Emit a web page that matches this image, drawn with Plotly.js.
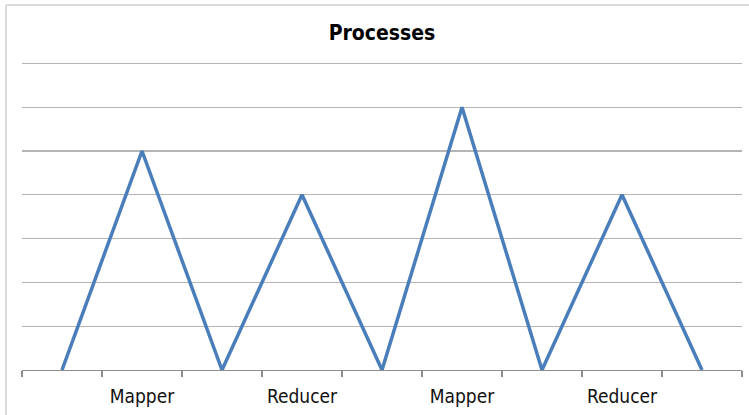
<!DOCTYPE html>
<html>
<head>
<meta charset="utf-8">
<script src="https://cdn.plot.ly/plotly-3.0.1.min.js"></script>
<style>
  html, body { margin: 0; padding: 0; background: #fff; }
  #chart { width: 749px; height: 415px; }
</style>
</head>
<body>
<div id="chart"></div>
<script>
// Data
const pointIndex = [0, 1, 2, 3, 4, 5, 6, 7, 8];
const values = [0, 5, 0, 4, 0, 6, 0, 4, 0];
const labelPositions = [1, 3, 5, 7];
const labelTexts = ["Mapper", "Reducer", "Mapper", "Reducer"];
const boundaryTicks = [-0.5, 0.5, 1.5, 2.5, 3.5, 4.5, 5.5, 6.5, 7.5, 8.5];

const L = 22, R = 7, T = 59, B = 45, W = 749, H = 415;
const plotW = W - L - R, plotH = H - T - B;
const px2paperX = x => (x - L) / plotW;
const px2paperY = y => (H - B - y) / plotH;

const trace = {
  x: pointIndex,
  y: values,
  type: 'scatter',
  mode: 'lines',
  line: { color: '#4a7ebb', width: 3.5 },
  hoverinfo: 'skip'
};

const layout = {
  width: W, height: H,
  margin: { l: L, r: R, t: T, b: B, pad: 0 },
  paper_bgcolor: '#ffffff',
  plot_bgcolor: '#ffffff',
  showlegend: false,
  title: {
    text: '<b>Processes</b>',
    font: { family: '"DejaVu Sans Condensed", "DejaVu Sans"', size: 21, color: '#000000' },
    x: 0.5, xref: 'paper', xanchor: 'center',
    y: 1 - 33 / H, yref: 'container', yanchor: 'middle'
  },
  xaxis: {
    range: [-0.5, 8.5],
    tickmode: 'array',
    tickvals: labelPositions,
    ticktext: labelTexts,
    ticks: '',
    showgrid: false,
    zeroline: false,
    showline: true,
    linecolor: '#8c8c8c',
    linewidth: 1.3,
    tickfont: { family: '"DejaVu Sans Condensed", "DejaVu Sans"', size: 19, color: '#111111' },
    ticklabelstandoff: 9,
    minor: {
      tickmode: 'array',
      tickvals: boundaryTicks,
      ticks: 'outside',
      ticklen: 6,
      tickwidth: 1.2,
      tickcolor: '#8c8c8c',
      showgrid: false
    },
    fixedrange: true
  },
  yaxis: {
    range: [0, 7.1],
    tickmode: 'linear',
    tick0: 0,
    dtick: 1,
    showticklabels: false,
    ticks: '',
    showgrid: true,
    gridcolor: '#b4b4b4',
    gridwidth: 1.2,
    zeroline: false,
    showline: false,
    fixedrange: true
  },
  shapes: [
    { type: 'line', xref: 'paper', yref: 'paper',
      x0: px2paperX(6), x1: px2paperX(6), y0: px2paperY(420), y1: px2paperY(5),
      line: { color: '#cfcfcf', width: 1.5 } },
    { type: 'line', xref: 'paper', yref: 'paper',
      x0: px2paperX(6), x1: px2paperX(760), y0: px2paperY(5), y1: px2paperY(5),
      line: { color: '#cfcfcf', width: 1.5 } }
  ]
};

Plotly.newPlot('chart', [trace], layout, { staticPlot: true, displayModeBar: false });
</script>
</body>
</html>
